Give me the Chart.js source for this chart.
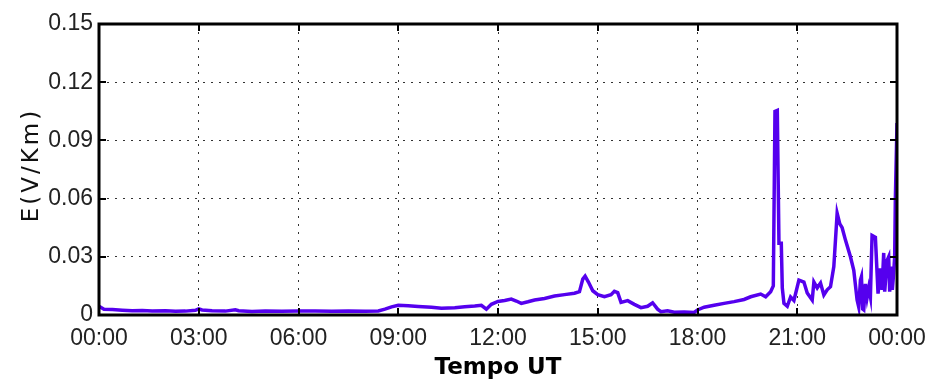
<!DOCTYPE html>
<html>
<head>
<meta charset="utf-8">
<style>
  html, body { margin: 0; padding: 0; background: #fff; }
  canvas { display: block; }
</style>
<script src="https://cdn.jsdelivr.net/npm/chart.js@4.4.0/dist/chart.umd.min.js"></script>
</head>
<body>
<canvas id="efield" width="928" height="380"></canvas>
<script>
// time in hours UT (0 .. 24) and electric field in V/Km
const hours = [
  0.00, 0.05, 0.15, 0.40, 0.70, 1.00, 1.30, 1.60, 2.00, 2.30, 2.60, 2.90,
  3.00, 3.10, 3.40, 3.80, 4.10, 4.20, 4.60, 5.00, 5.50, 6.00, 6.50, 7.00,
  7.50, 8.00, 8.40, 8.60, 8.80, 9.00, 9.30, 9.60, 10.00, 10.30, 10.70, 11.00,
  11.30, 11.50, 11.65, 11.80, 12.00, 12.20, 12.40, 12.55, 12.70, 12.90, 13.10, 13.40,
  13.70, 14.00, 14.30, 14.45, 14.55, 14.62, 14.72, 14.85, 15.00, 15.20, 15.40, 15.50,
  15.60, 15.70, 15.90, 16.10, 16.30, 16.50, 16.65, 16.80, 16.90, 17.10, 17.30, 17.60,
  17.90, 18.00, 18.20, 18.50, 18.80, 19.10, 19.40, 19.60, 19.90, 20.05, 20.20, 20.28,
  20.33, 20.40, 20.45, 20.52, 20.55, 20.60, 20.70, 20.80, 20.90, 21.05, 21.20, 21.30,
  21.45, 21.50, 21.60, 21.70, 21.80, 21.90, 22.00, 22.10, 22.20, 22.28, 22.35, 22.45,
  22.60, 22.70, 22.80, 22.85, 22.90, 22.93, 22.97, 23.00, 23.05, 23.10, 23.15, 23.20,
  23.25, 23.35, 23.43, 23.45, 23.50, 23.55, 23.60, 23.63, 23.70, 23.75, 23.78, 23.82,
  23.86, 23.90, 23.93, 23.95, 24.00
];
const field = [
  0.0045, 0.0040, 0.0030, 0.0028, 0.0025, 0.0022, 0.0023, 0.0020, 0.0022, 0.0019, 0.0020, 0.0024,
  0.0032, 0.0026, 0.0022, 0.0020, 0.0027, 0.0022, 0.0018, 0.0020, 0.0019, 0.0021, 0.0020, 0.0019,
  0.0020, 0.0019, 0.0021, 0.0030, 0.0042, 0.0050, 0.0048, 0.0044, 0.0040, 0.0035, 0.0038, 0.0042,
  0.0046, 0.0050, 0.0030, 0.0055, 0.0070, 0.0075, 0.0082, 0.0072, 0.0060, 0.0068, 0.0077, 0.0085,
  0.0098, 0.0105, 0.0112, 0.0120, 0.0185, 0.0200, 0.0170, 0.0125, 0.0105, 0.0094, 0.0105, 0.0122,
  0.0115, 0.0065, 0.0074, 0.0055, 0.0038, 0.0045, 0.0063, 0.0030, 0.0017, 0.0022, 0.0014, 0.0016,
  0.0013, 0.0026, 0.0040, 0.0050, 0.0060, 0.0069, 0.0080, 0.0094, 0.0108, 0.0094, 0.0120, 0.0150,
  0.1050, 0.1055, 0.0370, 0.0370, 0.0140, 0.0060, 0.0045, 0.0093, 0.0075, 0.0180, 0.0170, 0.0113,
  0.0077, 0.0170, 0.0140, 0.0165, 0.0103, 0.0130, 0.0146, 0.0250, 0.0525, 0.0470, 0.0450, 0.0386,
  0.0300, 0.0230, 0.0077, 0.0040, 0.0180, 0.0197, 0.0030, 0.0026, 0.0160, 0.0090, 0.0140, 0.0094,
  0.0410, 0.0400, 0.0110, 0.0110, 0.0240, 0.0130, 0.0320, 0.0120, 0.0280, 0.0300, 0.0120, 0.0250,
  0.0130, 0.0216, 0.0300, 0.0590, 0.0990
];
const xTickStep = 3;      // hours between time labels
const yTickStep = 0.03;   // V/Km between value labels

const points = hours.map((h, i) => ({ x: h, y: field[i] }));

// black frame round the plot with short inward tick marks on all four sides
const framePlugin = {
  id: 'frame',
  afterDraw(chart) {
    const { ctx, chartArea: a, scales } = chart;
    ctx.save();
    ctx.strokeStyle = '#000';
    ctx.lineWidth = 2;
    scales.x.ticks.forEach(t => {
      const px = Math.round(scales.x.getPixelForValue(t.value));
      ctx.beginPath();
      ctx.moveTo(px, a.bottom); ctx.lineTo(px, a.bottom - 7);
      ctx.moveTo(px, a.top); ctx.lineTo(px, a.top + 7);
      ctx.stroke();
    });
    scales.y.ticks.forEach(t => {
      const py = Math.round(scales.y.getPixelForValue(t.value));
      ctx.beginPath();
      ctx.moveTo(a.left, py); ctx.lineTo(a.left + 7, py);
      ctx.moveTo(a.right, py); ctx.lineTo(a.right - 7, py);
      ctx.stroke();
    });
    ctx.lineWidth = 3;
    ctx.strokeRect(a.left, a.top, a.right - a.left, a.bottom - a.top);

    // y axis title, drawn here so it can keep the wide letter spacing
    ctx.translate(32, 166);
    ctx.rotate(-Math.PI / 2);
    ctx.fillStyle = '#111';
    ctx.font = '23px "DejaVu Sans"';
    ctx.textAlign = 'center';
    ctx.textBaseline = 'middle';
    ctx.letterSpacing = '3px';
    ctx.fillText('E(V/Km)', 1, 0);
    ctx.restore();
  }
};

new Chart(document.getElementById('efield').getContext('2d'), {
  type: 'line',
  data: {
    datasets: [{
      data: points,
      borderColor: '#5500ee',
      borderWidth: 3.5,
      pointRadius: 0,
      tension: 0,
      fill: false
    }]
  },
  options: {
    responsive: false,
    animation: false,
    layout: { padding: { left: 0, top: 24, right: 31, bottom: 0 } },
    plugins: { legend: { display: false }, tooltip: { enabled: false } },
    scales: {
      x: {
        type: 'linear',
        min: 0,
        max: 24,
        afterFit: s => { s.height = 65; s.paddingLeft = 0; s.paddingRight = 0; },
        grid: { color: '#333', lineWidth: 1, drawTicks: false },
        border: { display: false, dash: [2, 6] },
        ticks: {
          stepSize: xTickStep,
          autoSkip: false,
          maxRotation: 0,
          padding: 10,
          color: '#222',
          font: { family: '"Liberation Sans", Arial', size: 23 },
          callback: v => String(v % 24).padStart(2, '0') + ':00'
        },
        title: {
          display: true,
          text: 'Tempo UT',
          color: '#000',
          padding: 0,
          font: { family: '"DejaVu Sans"', size: 23, weight: 'bold', lineHeight: 1 }
        }
      },
      y: {
        min: 0,
        max: 0.15,
        afterFit: s => { s.width = 99; s.paddingTop = 0; s.paddingBottom = 0; },
        grid: { color: '#333', lineWidth: 1, drawTicks: false },
        border: { display: false, dash: [2, 6] },
        ticks: {
          stepSize: yTickStep,
          padding: 6,
          color: '#222',
          font: { family: '"Liberation Sans", Arial', size: 23 },
          callback: v => (v === 0 ? '0' : v.toFixed(2))
        }
      }
    }
  },
  plugins: [framePlugin]
});
</script>
</body>
</html>
